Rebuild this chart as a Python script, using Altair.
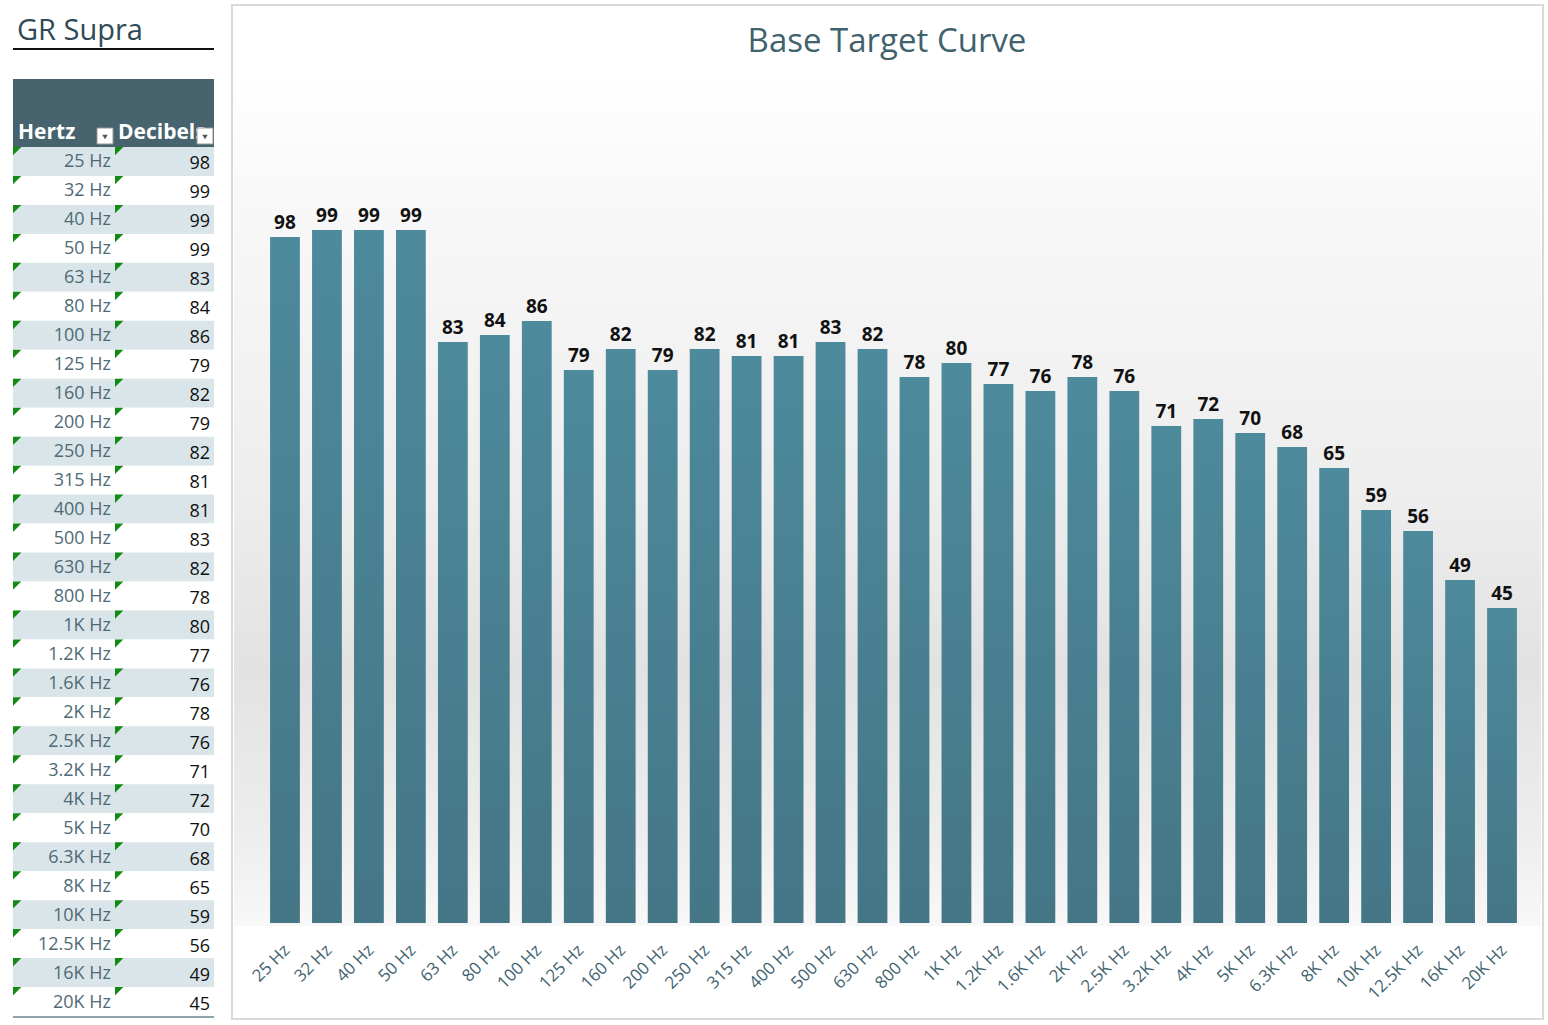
import altair as alt
import pandas as pd

# ---- data ----
hertz = ["25 Hz", "32 Hz", "40 Hz", "50 Hz", "63 Hz", "80 Hz", "100 Hz", "125 Hz",
         "160 Hz", "200 Hz", "250 Hz", "315 Hz", "400 Hz", "500 Hz", "630 Hz", "800 Hz",
         "1K Hz", "1.2K Hz", "1.6K Hz", "2K Hz", "2.5K Hz", "3.2K Hz", "4K Hz", "5K Hz",
         "6.3K Hz", "8K Hz", "10K Hz", "12.5K Hz", "16K Hz", "20K Hz"]
decibels = [98, 99, 99, 99, 83, 84, 86, 79, 82, 79, 82, 81, 81, 83, 82, 78,
            80, 77, 76, 78, 76, 71, 72, 70, 68, 65, 59, 56, 49, 45]
sheet_title = "GR Supra"
chart_title = "Base Target Curve"
col_headers = ["Hertz", "Decibels"]

df = pd.DataFrame({
    "hz": hertz,
    "db": decibels,
    "shade": [i % 2 for i in range(len(hertz))],
})
one = pd.DataFrame({"k": [0]})

FONT = "Open Sans"
SLATE = "#46636E"

# ---------------- left panel: the worksheet table ----------------
row_y = alt.Y("hz:N", sort=hertz, axis=None,
              scale=alt.Scale(range=[147, 1016], paddingInner=0, paddingOuter=0))

stripes = alt.Chart(df).mark_rect().encode(
    x=alt.value(13), x2=alt.value(214), y=row_y,
    fill=alt.Fill("shade:N", scale=alt.Scale(domain=[0, 1], range=["#DAE5EA", "#FFFFFF"]),
                  legend=None),
)

hz_text = alt.Chart(df).mark_text(align="right", baseline="middle", fontSize=18,
                                  font=FONT, color="#4E6B75", dy=1).encode(
    x=alt.value(111), y=row_y, text="hz:N")

db_text = alt.Chart(df).mark_text(align="right", baseline="middle", fontSize=18,
                                  font=FONT, color="#111111", dy=3).encode(
    x=alt.value(210), y=row_y, text="db:Q")

tri_y = alt.Y("hz:N", sort=hertz, axis=None, bandPosition=0,
              scale=alt.Scale(range=[147, 1016], paddingInner=0, paddingOuter=0))
tri1 = alt.Chart(df).mark_point(shape="M0,0L2,0L0,2Z", size=70, filled=True,
                                color="#138A13", opacity=1, strokeWidth=0).encode(
    x=alt.value(13), y=tri_y)
tri2 = alt.Chart(df).mark_point(shape="M0,0L2,0L0,2Z", size=70, filled=True,
                                color="#138A13", opacity=1, strokeWidth=0).encode(
    x=alt.value(115), y=tri_y)

title_left = alt.Chart(one).mark_text(align="left", baseline="alphabetic", fontSize=29,
                                      font=FONT, color="#2F4A55").encode(
    x=alt.value(17), y=alt.value(40), text=alt.value(sheet_title))
underline = alt.Chart(one).mark_rule(color="#111111", strokeWidth=2).encode(
    x=alt.value(13), x2=alt.value(214), y=alt.value(49))

header = alt.Chart(one).mark_rect(color=SLATE).encode(
    x=alt.value(13), x2=alt.value(214), y=alt.value(79), y2=alt.value(147))
h1 = alt.Chart(one).mark_text(align="left", baseline="alphabetic", fontSize=21,
                              fontWeight="bold", font=FONT, color="white").encode(
    x=alt.value(18), y=alt.value(139), text=alt.value(col_headers[0]))
h2 = alt.Chart(one).mark_text(align="left", baseline="alphabetic", fontSize=21,
                              fontWeight="bold", font=FONT, color="white").encode(
    x=alt.value(118), y=alt.value(139), text=alt.value(col_headers[1]))
dd1 = alt.Chart(one).mark_rect(fill="white", stroke="#999999", strokeWidth=1).encode(
    x=alt.value(97), x2=alt.value(113), y=alt.value(128), y2=alt.value(144))
dd2 = alt.Chart(one).mark_rect(fill="white", stroke="#999999", strokeWidth=1).encode(
    x=alt.value(197), x2=alt.value(213), y=alt.value(128), y2=alt.value(144))
ddt1 = alt.Chart(one).mark_point(shape="triangle-down", size=30, filled=True,
                                 color="#555555", opacity=1).encode(
    x=alt.value(105), y=alt.value(137))
ddt2 = alt.Chart(one).mark_point(shape="triangle-down", size=30, filled=True,
                                 color="#555555", opacity=1).encode(
    x=alt.value(205), y=alt.value(137))
bottom_line = alt.Chart(one).mark_rule(color="#6A8590", strokeWidth=1.5).encode(
    x=alt.value(13), x2=alt.value(214), y=alt.value(1017))

left = alt.layer(stripes, hz_text, db_text, tri1, tri2, title_left, underline,
                 header, h2, dd2, ddt2, h1, dd1, ddt1, bottom_line).properties(
    width=214, height=1020)

# ---------------- right panel: the bar chart ----------------
xs = alt.X("hz:N", sort=hertz, axis=None,
           scale=alt.Scale(range=[33, 1292], paddingInner=0.29, paddingOuter=0.145))
ys = alt.Y("db:Q", axis=None, scale=alt.Scale(domain=[0, 100], range=[923, 223]))

border = alt.Chart(one).mark_rect(fill="white", stroke="#D9D9D9", strokeWidth=2).encode(
    x=alt.value(1), x2=alt.value(1312), y=alt.value(5), y2=alt.value(1019))

bg = alt.Chart(one).mark_rect(
    fill=alt.Gradient(gradient="linear", x1=0, x2=0, y1=0, y2=1, stops=[
        alt.GradientStop(color="#FFFFFF", offset=0),
        alt.GradientStop(color="#F8F8F8", offset=0.15),
        alt.GradientStop(color="#EDEDED", offset=0.5),
        alt.GradientStop(color="#E2E2E2", offset=0.7),
        alt.GradientStop(color="#EEEEEE", offset=0.9),
        alt.GradientStop(color="#F8F8F8", offset=1),
    ])).encode(x=alt.value(3), x2=alt.value(1310), y=alt.value(75), y2=alt.value(926))

bars = alt.Chart(df).mark_bar(
    fill=alt.Gradient(gradient="linear", x1=0, x2=0, y1=0, y2=1, stops=[
        alt.GradientStop(color="#4D8A9C", offset=0),
        alt.GradientStop(color="#447686", offset=1),
    ])).encode(x=xs, y=ys)

bar_labels = alt.Chart(df).mark_text(baseline="alphabetic", fontSize=19, fontWeight="bold",
                                     font=FONT, color="#111111", dy=-8).encode(
    x=xs, y=ys, text="db:Q")

x_labels = alt.Chart(df).mark_text(angle=315, align="right", baseline="middle",
                                   fontSize=17, font=FONT, color="#3F6470", dx=3).encode(
    x=xs, y=alt.value(950), text="hz:N")

title_right = alt.Chart(one).mark_text(align="center", baseline="alphabetic", fontSize=33,
                                       font=FONT, color="#3F626D").encode(
    x=alt.value(656), y=alt.value(52), text=alt.value(chart_title))

right = alt.layer(border, bg, bars, bar_labels, x_labels, title_right).properties(
    width=1313, height=1020)

chart = alt.hconcat(left, right, spacing=16).properties(
    padding=0, background="white"
).configure_view(stroke=None)

chart.save("out.html", embed_options={"renderer": "svg", "actions": False})
